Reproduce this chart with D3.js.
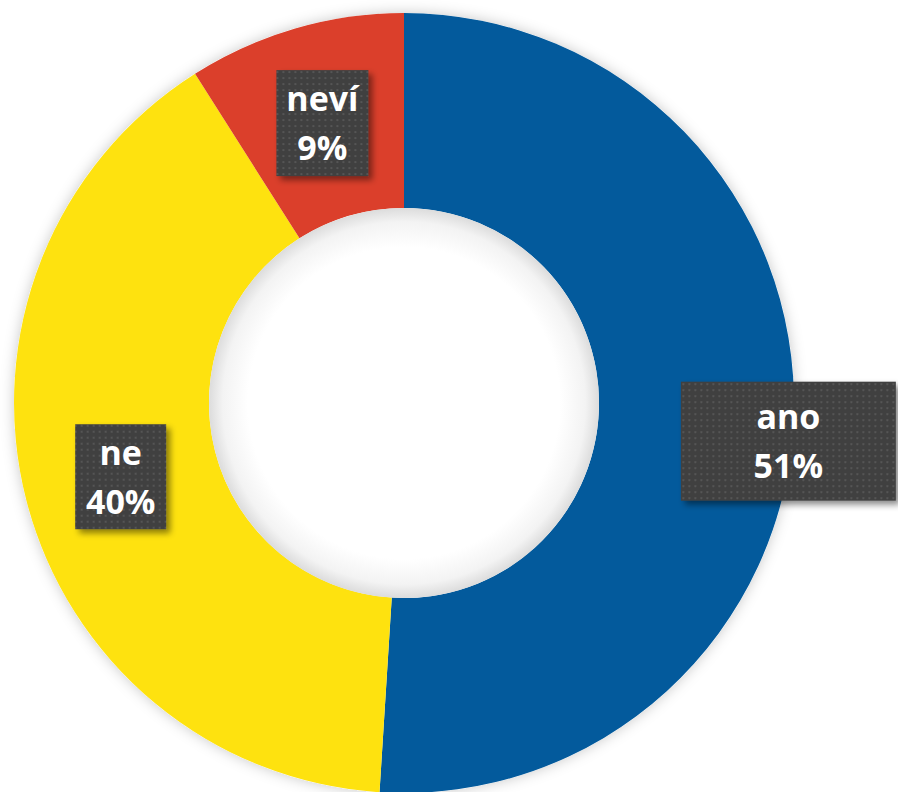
<!DOCTYPE html>
<html><head><meta charset="utf-8">
<script src="https://cdn.jsdelivr.net/npm/d3@7/dist/d3.min.js"></script>
<style>html,body{margin:0;padding:0;background:#fff;overflow:hidden}</style>
</head><body>
<svg id="c" width="898" height="792"></svg>
<script>
const categories = ["ano", "ne", "neví"];
const values = [51, 40, 9];
const colors = ["#035A9C", "#FEE20F", "#DB3F2B"];
const labelText = ["51%", "40%", "9%"];

const svg = d3.select("#c");
const cx = 404, cy = 403, rOut = 390, rIn = 195;
const defs = svg.append("defs");
const f = defs.append("filter").attr("id","glow").attr("x","-20%").attr("y","-20%").attr("width","140%").attr("height","140%");
f.append("feDropShadow").attr("dx",0).attr("dy",0).attr("stdDeviation",7).attr("flood-color","#000").attr("flood-opacity",0.22);
const f2 = defs.append("filter").attr("id","bshadow").attr("x","-20%").attr("y","-20%").attr("width","150%").attr("height","150%");
f2.append("feDropShadow").attr("dx",4).attr("dy",4).attr("stdDeviation",3).attr("flood-color","#000").attr("flood-opacity",0.45);
const pat = defs.append("pattern").attr("id","dots").attr("width",6).attr("height",6).attr("patternUnits","userSpaceOnUse");
pat.append("rect").attr("width",6).attr("height",6).attr("fill","#404040");
pat.append("rect").attr("x",2).attr("y",2).attr("width",2).attr("height",2).attr("fill","#555555");

const g = svg.append("g").attr("transform",`translate(${cx},${cy})`);
const pie = d3.pie().sort(null).value(d=>d)(values);
const arc = d3.arc().innerRadius(rIn).outerRadius(rOut);

g.append("circle").attr("r",rOut).attr("fill","#fff").attr("filter","url(#glow)");
g.selectAll("path.s").data(pie).join("path").attr("class","s")
  .attr("d",arc).attr("fill",(d,i)=>colors[i]);
const rg = defs.append("radialGradient").attr("id","holeg");
rg.append("stop").attr("offset","0.80").attr("stop-color","#fff");
rg.append("stop").attr("offset","0.93").attr("stop-color","#f3f3f3");
rg.append("stop").attr("offset","1").attr("stop-color","#dcdcdc");
g.append("circle").attr("r",rIn).attr("fill","url(#holeg)");

// labels
const boxW = [215, 91, 92], boxH = [119, 105, 106];
const offs = [[92, 29], [0, 1], [0, 1]];
const fs = 34;
pie.forEach((d,i)=>{
  const c = arc.centroid(d);
  const bx = cx + c[0] + offs[i][0];
  const by = cy + c[1] + offs[i][1];
  const lg = svg.append("g").attr("transform",`translate(${bx},${by})`);
  lg.append("rect").attr("x",-boxW[i]/2).attr("y",-boxH[i]/2).attr("width",boxW[i]).attr("height",boxH[i])
    .attr("fill","url(#dots)").attr("filter","url(#bshadow)");
  const t = lg.append("text").attr("text-anchor","middle").attr("fill","#fff")
    .style("font-family","'Open Sans', sans-serif").style("font-weight","700").style("font-size",fs+"px");
  t.append("tspan").attr("x",0).attr("y",-12).text(categories[i]);
  t.append("tspan").attr("x",0).attr("y",37).text(labelText[i]);
});
</script>
</body></html>
